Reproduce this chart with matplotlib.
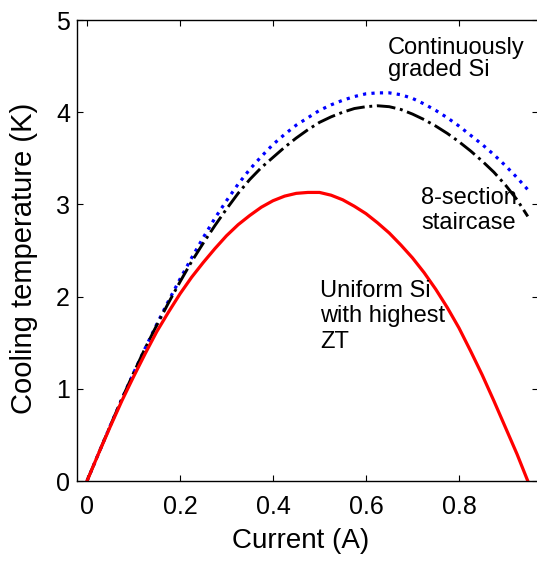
import matplotlib
matplotlib.use("Agg")
import matplotlib.pyplot as plt

plt.rcParams['font.family'] = ['Liberation Sans', 'DejaVu Sans']

# current (A), sampled every 0.025
current = [0.0, 0.025, 0.05, 0.075, 0.1, 0.125, 0.15, 0.175, 0.2, 0.225,
           0.25, 0.275, 0.3, 0.325, 0.35, 0.375, 0.4, 0.425, 0.45, 0.475,
           0.5, 0.525, 0.55, 0.575, 0.6, 0.625, 0.65, 0.675, 0.7, 0.725,
           0.75, 0.775, 0.8, 0.825, 0.85, 0.875, 0.9, 0.925, 0.948]

# cooling temperature (K)
uniform = [0.0, 0.30, 0.59, 0.87, 1.13, 1.38, 1.62, 1.83, 2.03, 2.21,
           2.37, 2.52, 2.66, 2.78, 2.88, 2.97, 3.04, 3.09, 3.12, 3.13,
           3.13, 3.10, 3.05, 2.98, 2.90, 2.80, 2.69, 2.56, 2.42, 2.26,
           2.08, 1.88, 1.66, 1.41, 1.15, 0.87, 0.58, 0.29, 0.0]
graded = [0.0, 0.30, 0.60, 0.89, 1.17, 1.44, 1.70, 1.95, 2.19, 2.42,
          2.64, 2.85, 3.04, 3.22, 3.38, 3.52, 3.65, 3.76, 3.86, 3.94,
          4.02, 4.08, 4.13, 4.17, 4.20, 4.21, 4.21, 4.19, 4.15, 4.09,
          4.02, 3.94, 3.85, 3.75, 3.65, 3.54, 3.42, 3.29, 3.16]
staircase = [0.0, 0.30, 0.60, 0.89, 1.17, 1.44, 1.69, 1.93, 2.16, 2.38,
             2.58, 2.77, 2.95, 3.12, 3.27, 3.40, 3.51, 3.62, 3.72, 3.81,
             3.89, 3.95, 4.00, 4.04, 4.06, 4.07, 4.06, 4.03, 3.98, 3.92,
             3.85, 3.77, 3.68, 3.58, 3.47, 3.35, 3.21, 3.05, 2.87]

x_ticks = [0, 0.2, 0.4, 0.6, 0.8]
x_labels = ['0', '0.2', '0.4', '0.6', '0.8']
y_ticks = [0, 1, 2, 3, 4, 5]

fig = plt.figure(figsize=(5.37, 5.61), dpi=100)
ax = fig.add_axes([0.1434, 0.1426, 0.8585, 0.8217])

ax.plot(current, graded, color='#0000ff', linestyle=':', linewidth=2.3)
ax.plot(current, staircase, color='black', linestyle='-.', linewidth=2.1)
ax.plot(current, uniform, color='#ff0000', linestyle='-', linewidth=2.3)

ax.set_xlim(-0.0215, 0.97)
ax.set_ylim(0, 5)
ax.set_xticks(x_ticks)
ax.set_xticklabels(x_labels)
ax.set_yticks(y_ticks)
ax.tick_params(direction='in', top=True, right=True, length=4, width=0.8,
               labelsize=18)
ax.tick_params(axis='x', pad=10)
ax.tick_params(axis='y', pad=5)
for s in ax.spines.values():
    s.set_linewidth(1.0)

ax.set_xlabel('Current (A)', fontsize=20)
ax.set_ylabel('Cooling temperature (K)', fontsize=21)
ax.xaxis.set_label_coords(0.485, -0.102)
ax.yaxis.set_label_coords(-0.0846, 0.4826)

ax.text(0.647, 4.82, 'Continuously\ngraded Si', fontsize=17, va='top',
        ha='left', linespacing=1.05)
ax.text(0.719, 3.19, '8-section\nstaircase', fontsize=17, va='top',
        ha='left', linespacing=1.2)
ax.text(0.501, 2.18, 'Uniform Si\nwith highest\nZT', fontsize=17, va='top',
        ha='left', linespacing=1.2)

fig.savefig('out.png', dpi=100)
